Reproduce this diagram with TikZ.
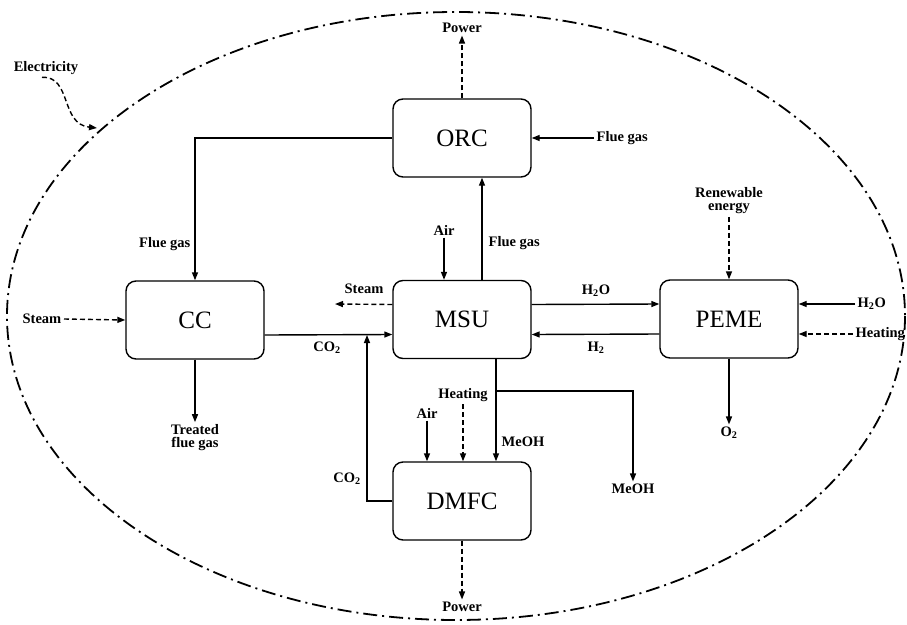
\documentclass[tikz,border=0pt]{standalone}
\usepackage{fontspec}
\setmainfont{Liberation Serif}
\usetikzlibrary{arrows.meta}

\def\unitw{138pt}
\def\unith{78pt}

\begin{document}
\begin{tikzpicture}[x=1pt,y=-1pt,->,>={Triangle[length=8pt,width=6pt]},line width=1.4pt]
        \tikzstyle{unit}=[draw,rounded corners=10pt,minimum width=\unitw,minimum height=\unith,line width=1.4pt,font=\fontsize{25}{30}\selectfont]
        \tikzstyle{lbl}=[inner sep=2pt,font=\fontsize{14.5}{16}\selectfont\bfseries,align=center]
        \tikzstyle{heat}=[dash pattern=on 5pt off 3pt]
        \useasboundingbox (0,0) rectangle (907,624);

        % system boundary
        \draw[-,line width=1.8pt,dash pattern=on 14pt off 5pt on 2pt off 5pt] (456,316) ellipse [x radius=449,y radius=304];

        % units
        \node[unit] (ORC) at (462,138) {ORC};
        \node[unit] (CC) at (195,320) {CC};
        \node[unit] (MSU) at (462,319.5) {MSU};
        \node[unit] (PEME) at (729,319) {PEME};
        \node[unit] (DMFC) at (462,501) {DMFC};

        % stream labels
        \node[lbl] (elec) at (46,68) {Electricity};
        \node[lbl] (pwrT) at (462,28) {Power};
        \node[lbl,anchor=west] (fgO) at (594,138) {Flue gas};
        \node[lbl,anchor=east] (fgC) at (193,244) {Flue gas};
        \node[lbl,anchor=west] (fgM) at (486,243) {Flue gas};
        \node[lbl] (airM) at (444,230) {Air};
        \node[lbl] (stmM) at (364,289) {Steam};
        \node[lbl,anchor=east] (stmC) at (64,319) {Steam};
        \node[lbl] (co2a) at (327,348) {CO\textsubscript{2}};
        \node[lbl] (co2b) at (347,479) {CO\textsubscript{2}};
        \node[lbl] (h2o) at (596,291) {H\textsubscript{2}O};
        \node[lbl] (h2) at (596,348) {H\textsubscript{2}};
        \node[lbl] (renew) at (729,201) {Renewable\\[-3pt]energy};
        \node[lbl,anchor=west] (h2oP) at (855,304) {H\textsubscript{2}O};
        \node[lbl,anchor=west] (heatP) at (853,334) {Heating};
        \node[lbl] (o2) at (729,433) {O\textsubscript{2}};
        \node[lbl] (treated) at (195,438) {Treated\\[-3pt]flue gas};
        \node[lbl,anchor=west] (meoh1) at (499,442) {MeOH};
        \node[lbl] (meoh2) at (633,489) {MeOH};
        \node[lbl] (heatD) at (463,395) {Heating};
        \node[lbl] (airD) at (427,413) {Air};
        \node[lbl] (pwrB) at (462,607) {Power};

        \coordinate (stmEnd) at (335,304);
        \coordinate (mj) at (496,391);
        \coordinate (cj) at (367,335);

        % ORC
        \draw[heat] (ORC.north) -- (pwrT.south);
        \draw (fgO.west) -- (ORC.east);
        \draw (ORC.west) -| (CC.north);

        % CC
        \draw[heat] (stmC.east) -- (CC.west);
        \draw (CC.south) -- (treated.north);
        \draw ([yshift=-15pt]CC.east) -- ([yshift=-15pt]MSU.west);

        % MSU
        \draw ([xshift=20pt]MSU.north) -- ([xshift=20pt]ORC.south);
        \draw (airM.south) -- (airM |- MSU.north);
        \draw[heat] ([yshift=15pt]MSU.west) -- (stmEnd);
        \draw ([yshift=15pt]MSU.east) -- ([yshift=15pt]PEME.west);
        \draw ([yshift=-15pt]PEME.west) -- ([yshift=-15pt]MSU.east);
        \draw (MSU.south -| mj) -- (DMFC.north -| mj);
        \draw (mj) -| (meoh2.north);

        % PEME
        \draw[heat] (renew.south) -- (PEME.north);
        \draw (h2oP.west) -- (PEME.east |- h2oP);
        \draw[heat] (heatP.west) -- (PEME.east |- heatP);
        \draw (PEME.south) -- (o2.north);

        % DMFC
        \draw (airD.south) -- (airD |- DMFC.north);
        \draw[heat] (heatD.south) -- (heatD |- DMFC.north);
        \draw (DMFC.west) -| (cj);
        \draw[heat] (DMFC.south) -- (pwrB.north);

        % electricity
        \draw[heat] ([xshift=-4pt]elec.south) .. controls (72,76) and (60,124) .. (97,128);
\end{tikzpicture}
\end{document}
